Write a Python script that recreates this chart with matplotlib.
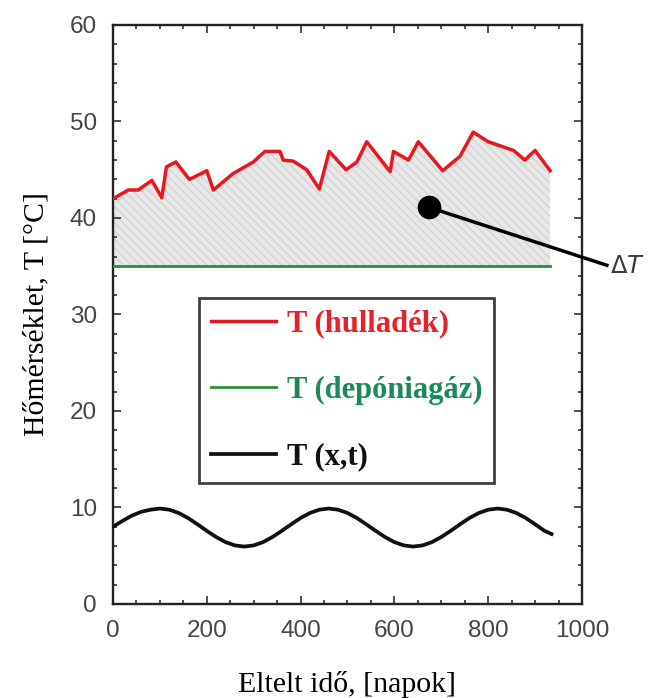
import matplotlib
matplotlib.use("Agg")
import matplotlib.pyplot as plt
from matplotlib.ticker import MultipleLocator

# Waste temperature (red)
waste_days = [0, 33, 54, 83, 104, 114, 134, 163, 200, 214, 256, 299, 324, 356,
              363, 384, 413, 440, 461, 497, 520, 541, 591, 598, 630, 651, 703,
              740, 768, 800, 854, 878, 900, 932]
waste_temp = [42.0, 42.9, 42.9, 43.9, 42.1, 45.3, 45.8, 44.0, 44.9, 42.9, 44.6,
              45.8, 46.9, 46.9, 46.0, 45.9, 45.0, 43.0, 46.9, 45.0, 45.8, 47.9,
              44.8, 46.9, 46.0, 47.9, 44.9, 46.4, 48.9, 47.9, 47.0, 46.0, 47.0,
              44.9]

# Landfill gas temperature (green)
gas_days = [0, 932]
gas_temp = [35.0, 35.0]

# Ambient / soil temperature T(x,t) (black)
amb_days = [0, 20, 40, 60, 80, 100, 120, 140, 160, 180, 200, 220, 240, 260,
            280, 300, 320, 340, 360, 380, 400, 420, 440, 460, 480, 500, 520,
            540, 560, 580, 600, 620, 640, 660, 680, 700, 720, 740, 760, 780,
            800, 820, 840, 860, 880, 900, 920, 935]
amb_temp = [8.0, 8.6, 9.15, 9.55, 9.77, 9.89, 9.77, 9.43, 8.91, 8.26, 7.58,
            6.94, 6.41, 6.07, 5.95, 6.07, 6.41, 6.94, 7.58, 8.26, 8.91, 9.43,
            9.77, 9.89, 9.77, 9.43, 8.91, 8.26, 7.58, 6.94, 6.41, 6.07, 5.95,
            6.07, 6.41, 6.94, 7.58, 8.26, 8.91, 9.43, 9.77, 9.89, 9.77, 9.43,
            8.91, 8.26, 7.58, 7.25]

labels = ['T (hulladék)', 'T (depóniagáz)', 'T (x,t)']
colors = ['#e8161e', '#2a8f3a', '#111111']
text_colors = ['#e8202a', '#1b8a55', '#111111']

fig = plt.figure(figsize=(6.5, 6.98), dpi=100)
ax = fig.add_axes([0.1738, 0.1347, 0.7216, 0.8295])

# shaded gap between waste and gas temperature
ax.fill_between(waste_days, gas_temp[0], waste_temp, facecolor='#e8e8e8',
                edgecolor='#d4d4d4', hatch='\\\\\\\\', linewidth=0, zorder=1)

ax.plot(waste_days, waste_temp, color=colors[0], lw=2.5, label=labels[0], zorder=3)
ax.plot(gas_days, gas_temp, color=colors[1], lw=2.0, label=labels[1], zorder=3)
ax.plot(amb_days, amb_temp, color=colors[2], lw=2.7, label=labels[2], zorder=3)

# Delta T callout
ax.plot([674, 1053], [41.1, 35.1], color='black', lw=2.5, clip_on=False, zorder=4)
ax.plot([674], [41.1], 'o', color='black', ms=16, zorder=5)
ax.text(1060, 35.0, r'$\Delta T$', fontsize=17.5, color='#3a3a3a',
        va='center', ha='left', clip_on=False)

ax.set_xlim(0, 1000)
ax.set_ylim(0, 60)
ax.xaxis.set_major_locator(MultipleLocator(200))
ax.xaxis.set_minor_locator(MultipleLocator(50))
ax.yaxis.set_major_locator(MultipleLocator(10))
ax.yaxis.set_minor_locator(MultipleLocator(2))

ax.tick_params(which='both', direction='in', top=True, right=True,
               color='#222222')
ax.tick_params(which='major', length=6, width=1.1, pad=11.5,
               labelsize=17.5, labelcolor='#444444')
ax.tick_params(which='minor', length=3.2, width=1.1)
for lab in ax.get_xticklabels() + ax.get_yticklabels():
    lab.set_family('Liberation Sans')
for sp in ax.spines.values():
    sp.set_linewidth(1.7)
    sp.set_color('#222222')

ax.set_xlabel('Eltelt idő, [napok]', family='Liberation Serif', fontsize=21.5)
ax.set_ylabel('Hőmérséklet, T [°C]', family='Liberation Serif', fontsize=21.5)
ax.xaxis.set_label_coords(0.5, -0.115)
ax.yaxis.set_label_coords(-0.135, 0.5)

leg = ax.legend(loc='center', bbox_to_anchor=(0.498, 0.369), frameon=True,
                fancybox=False, framealpha=1, edgecolor='#404040',
                prop={'family': 'Liberation Serif', 'weight': 'bold', 'size': 22},
                handlelength=2.15, handletextpad=0.35, labelspacing=1.23,
                borderpad=0.38, borderaxespad=0)
leg.get_frame().set_linewidth(2.0)
for txt, c in zip(leg.get_texts(), text_colors):
    txt.set_color(c)

fig.savefig('out.png', dpi=100)
